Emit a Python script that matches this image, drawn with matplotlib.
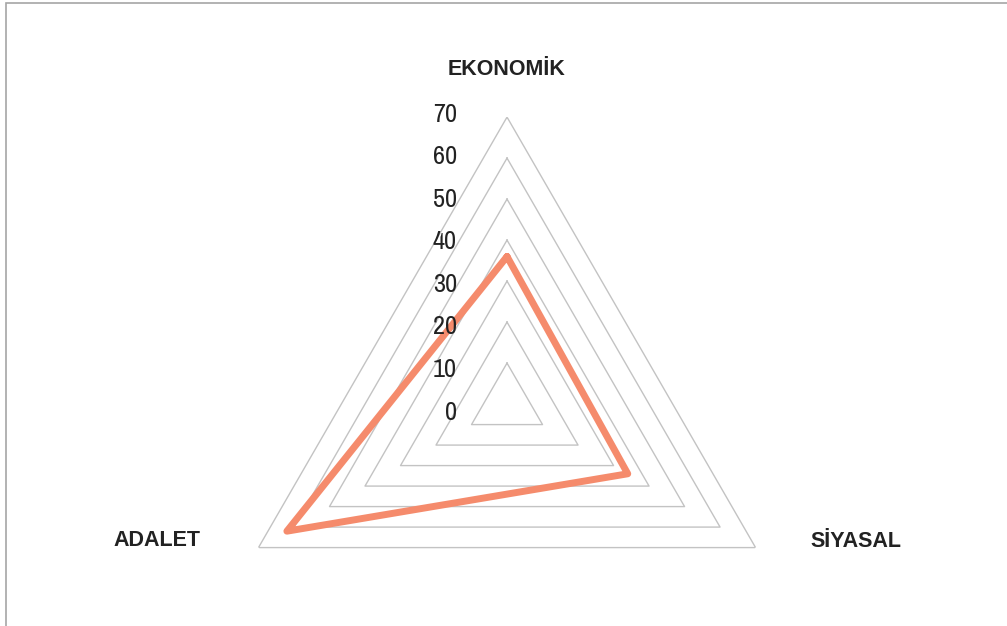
import numpy as np
import matplotlib
matplotlib.use('Agg')
import matplotlib.pyplot as plt
from matplotlib import font_manager

# veri
kategoriler = ['EKONOMİK', 'SİYASAL', 'ADALET']
degerler = [36, 34, 62]
halkalar = [10, 20, 30, 40, 50, 60, 70]
etiketler = [0, 10, 20, 30, 40, 50, 60, 70]

cizgi_renk = '#F58B6C'
izgara_renk = '#C3C3C3'

# dar yazı tipi varsa onu kullan
dar_aile = None
for f in font_manager.fontManager.ttflist:
    if 'Narrow' in f.name or 'Condensed' in f.name:
        dar_aile = f.name
        break
for f in font_manager.fontManager.ttflist:
    if f.name == 'DejaVu Sans' and f.stretch == 'condensed':
        dar_aile = dar_aile or 'DejaVu Sans'

fig = plt.figure(figsize=(10.07, 6.26), dpi=100)

# dış çerçeve (sağ ve alt kenar görünmüyor)
fig.patches.append(plt.Rectangle((6 / 1007, -0.2), 1.2, 1.2 - 3 / 626,
                                 transform=fig.transFigure, fill=False,
                                 edgecolor='#A6A6A6', linewidth=1.2))

ax = fig.add_axes([0.2185, -0.104, 0.570, 0.917], projection='polar')
ax.set_theta_offset(np.pi / 2)
ax.set_theta_direction(-1)
ax.set_ylim(0, 70)
ax.grid(False)
ax.spines['polar'].set_visible(False)
ax.set_xticks([])
ax.set_yticks([])
ax.patch.set_alpha(0)

acilar = np.linspace(0, 2 * np.pi, len(kategoriler), endpoint=False)
kapali = np.append(acilar, acilar[0])

# üçgen ızgara
for r in halkalar:
    ax.plot(kapali, [r] * len(kapali), color=izgara_renk, linewidth=1.0, zorder=1)

# seri
ax.plot(kapali, degerler + degerler[:1], color=cizgi_renk, linewidth=5,
        solid_joinstyle='round', solid_capstyle='round', zorder=3)

# eksen değerleri
for v in etiketler:
    ax.annotate(str(v), xy=(0, v), xytext=(-50, -8 + v * 11 / 70), textcoords='offset pixels',
                ha='right', va='center', fontsize=19, color='#222222',
                family=[dar_aile or 'DejaVu Sans', 'DejaVu Sans'], fontstretch='condensed',
                annotation_clip=False)

# kategori etiketleri
ofsetler = [(0, 48), (100, 6), (-102, 7)]
for aci, ad, (dx, dy) in zip(acilar, kategoriler, ofsetler):
    ax.annotate(ad, xy=(aci, 70), xytext=(dx, dy), textcoords='offset pixels',
                ha='center', va='center', fontsize=15.5, fontweight='bold',
                color='#222222', family=['Liberation Sans', 'DejaVu Sans'],
                annotation_clip=False)

plt.savefig('out.png', dpi=100)
plt.close()
